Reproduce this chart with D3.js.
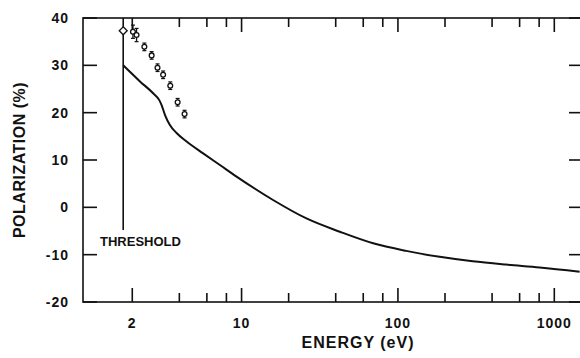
<!DOCTYPE html>
<html>
<head>
<meta charset="utf-8">
<script src="https://cdn.jsdelivr.net/npm/d3@7"></script>
<style>
  body { margin: 0; background: #fff; }
  text { font-family: "Liberation Sans", Arial, sans-serif; fill: #111; }
</style>
</head>
<body>
<div id="chart"></div>
<script>
// theory curve: energy (eV) vs polarization (%)
const curveE = [1.75, 2.24, 2.72, 2.97, 3.08, 3.24, 3.48, 3.84, 4.45, 5.68, 7.27, 9.29, 15.9, 26, 42.5, 69.4, 113, 185, 301, 492, 805, 1452];
const curveP = [30, 26.6, 24.1, 22.7, 21.6, 19.5, 17.4, 15.7, 13.9, 11.4, 8.95, 6.5, 1.55, -2.35, -5.16, -7.6, -9.2, -10.45, -11.4, -12.1, -12.7, -13.6];

// measured points with error bars
const measE = [2.02, 2.13, 2.39, 2.66, 2.90, 3.15, 3.50, 3.90, 4.32];
const measP = [37.1, 36.4, 33.9, 32.1, 29.5, 28.0, 25.7, 22.2, 19.7];
const measErr = [1.4, 1.4, 0.8, 0.8, 0.8, 0.8, 0.8, 0.8, 0.8];

// threshold point (diamond)
const threshE = 1.75;
const threshP = 37.3;
const threshLineBottom = -4.8;

const xMajor = [2, 10, 100, 1000];
const xMajorLabels = ["2", "10", "100", "1000"];
const xMinor = [4, 6, 8, 20, 40, 60, 80, 200, 400, 600, 800];
const yTicks = [-20, -10, 0, 10, 20, 30, 40];

const W = 580, H = 358;
const mLeft = 83, mRight = 583, mTop = 18, mBottom = 302;

const x = d3.scaleLog().domain([1, 1000]).range([85.2, 554.3]);
const y = d3.scaleLinear().domain([-20, 40]).range([mBottom, mTop]);

const svg = d3.select("#chart").append("svg")
  .attr("width", W).attr("height", H);

// frame
svg.append("rect")
  .attr("x", mLeft).attr("y", mTop)
  .attr("width", mRight - mLeft).attr("height", mBottom - mTop)
  .attr("fill", "none").attr("stroke", "#111").attr("stroke-width", 1.6);

// inward ticks on all four sides, drawn as thin rects
const majLen = 14, minLen = 9, tw = 1.6;
const tickRects = [];
xMajor.forEach(v => {
  tickRects.push({x: x(v) - tw / 2, y: mBottom - majLen, w: tw, h: majLen});
  tickRects.push({x: x(v) - tw / 2, y: mTop, w: tw, h: majLen});
});
xMinor.forEach(v => {
  tickRects.push({x: x(v) - tw / 2, y: mBottom - minLen, w: tw, h: minLen});
  tickRects.push({x: x(v) - tw / 2, y: mTop, w: tw, h: minLen});
});
yTicks.forEach(v => {
  tickRects.push({x: mLeft, y: y(v) - tw / 2, w: majLen, h: tw});
  tickRects.push({x: mRight - majLen, y: y(v) - tw / 2, w: majLen, h: tw});
});
svg.append("g").selectAll("rect").data(tickRects).join("rect")
  .attr("x", d => d.x).attr("y", d => d.y)
  .attr("width", d => d.w).attr("height", d => d.h)
  .attr("fill", "#111");

// tick labels
svg.append("g").selectAll("text").data(xMajor).join("text")
  .attr("x", d => x(d)).attr("y", 328)
  .attr("text-anchor", "middle")
  .attr("font-size", 14).attr("font-weight", "bold").attr("letter-spacing", 1)
  .text((d, i) => xMajorLabels[i]);

svg.append("g").selectAll("text").data(yTicks).join("text")
  .attr("x", 69).attr("y", d => y(d) + 5)
  .attr("text-anchor", "end")
  .attr("font-size", 14).attr("font-weight", "bold").attr("letter-spacing", 1)
  .text(d => d);

// axis titles
svg.append("text")
  .attr("x", 358).attr("y", 348)
  .attr("text-anchor", "middle")
  .attr("font-size", 16).attr("font-weight", "bold").attr("letter-spacing", 1)
  .text("ENERGY (eV)");

svg.append("text")
  .attr("transform", "translate(25,160) rotate(-90)")
  .attr("text-anchor", "middle")
  .attr("font-size", 16).attr("font-weight", "bold").attr("letter-spacing", 0.5)
  .text("POLARIZATION (%)");

// threshold line + label
svg.append("line")
  .attr("x1", x(threshE)).attr("x2", x(threshE))
  .attr("y1", y(40)).attr("y2", y(threshLineBottom))
  .attr("stroke", "#111").attr("stroke-width", 1.6);

svg.append("text")
  .attr("x", 100).attr("y", 246)
  .attr("font-size", 13).attr("font-weight", "bold")
  .text("THRESHOLD");

// theory curve
const pts = curveE.map((e, i) => [e, curveP[i]]);
svg.append("path")
  .datum(pts)
  .attr("fill", "none").attr("stroke", "#111").attr("stroke-width", 2)
  .attr("d", d3.line().x(d => x(d[0])).y(d => y(d[1])).curve(d3.curveMonotoneX));

// error bars
const meas = measE.map((e, i) => ({e, p: measP[i], err: measErr[i]}));
const g = svg.append("g");
g.selectAll("line.err").data(meas).join("line")
  .attr("class", "err")
  .attr("x1", d => x(d.e)).attr("x2", d => x(d.e))
  .attr("y1", d => y(d.p + d.err)).attr("y2", d => y(d.p - d.err))
  .attr("stroke", "#111").attr("stroke-width", 1.3);
g.selectAll("line.capT").data(meas).join("line")
  .attr("class", "capT")
  .attr("x1", d => x(d.e) - 2).attr("x2", d => x(d.e) + 2)
  .attr("y1", d => y(d.p + d.err)).attr("y2", d => y(d.p + d.err))
  .attr("stroke", "#111").attr("stroke-width", 1.2);
g.selectAll("line.capB").data(meas).join("line")
  .attr("class", "capB")
  .attr("x1", d => x(d.e) - 2).attr("x2", d => x(d.e) + 2)
  .attr("y1", d => y(d.p - d.err)).attr("y2", d => y(d.p - d.err))
  .attr("stroke", "#111").attr("stroke-width", 1.2);
g.selectAll("circle").data(meas).join("circle")
  .attr("cx", d => x(d.e)).attr("cy", d => y(d.p)).attr("r", 2.4)
  .attr("fill", "#fff").attr("stroke", "#111").attr("stroke-width", 1.3);

// diamond at threshold
svg.append("path")
  .attr("d", d3.symbol().type(d3.symbolDiamond2).size(40)())
  .attr("transform", `translate(${x(threshE)},${y(threshP)})`)
  .attr("fill", "#fff").attr("stroke", "#111").attr("stroke-width", 1.3);
</script>
</body>
</html>
